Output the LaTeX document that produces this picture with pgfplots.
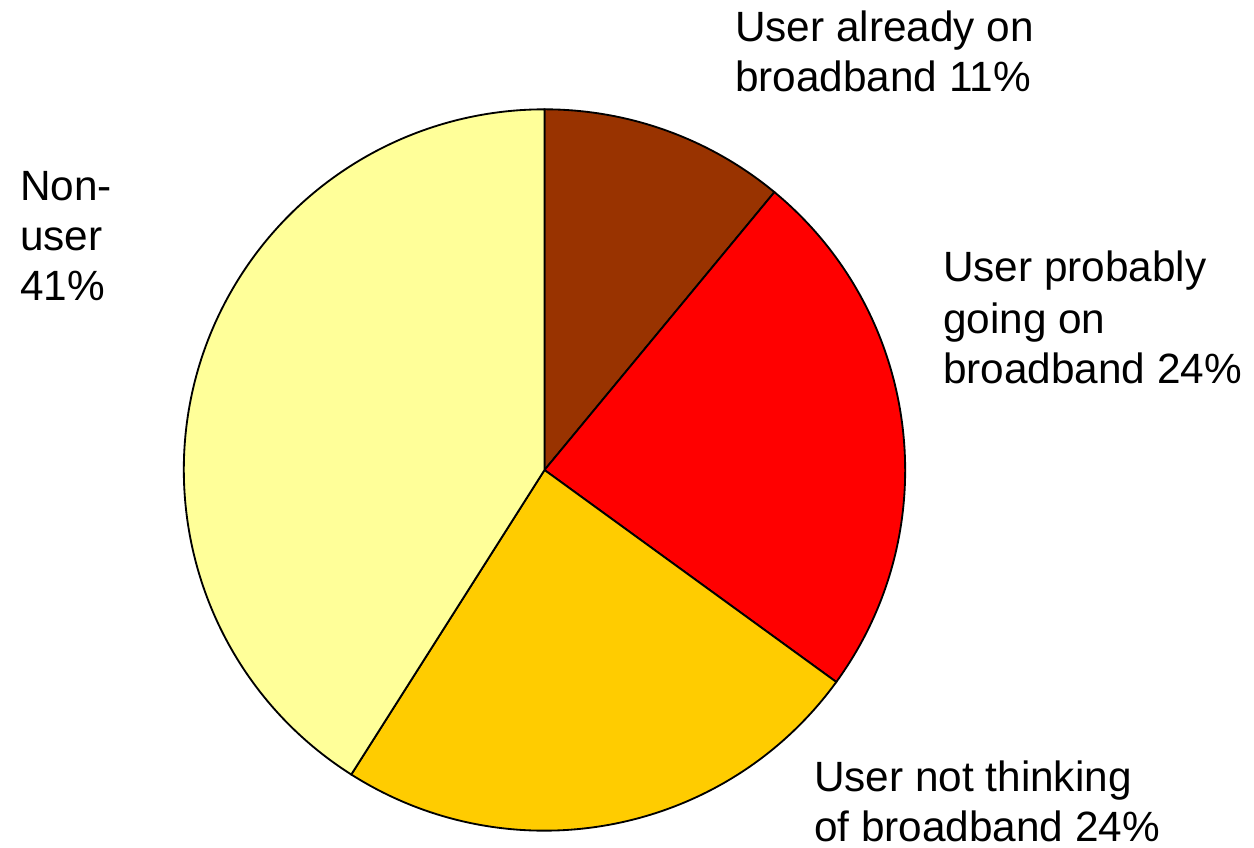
\documentclass[border=0pt]{standalone}
\usepackage{pgfplots}
\pgfplotsset{compat=1.18}
\usepackage{fontspec}
\setmainfont{Liberation Sans}
\definecolor{cA}{HTML}{993300}
\definecolor{cB}{HTML}{FF0000}
\definecolor{cC}{HTML}{FFCC00}
\definecolor{cD}{HTML}{FFFF99}
\tikzset{lab/.style={font=\fontsize{12.7pt}{15.2pt}\selectfont, inner sep=0pt, outer sep=0pt, anchor=base west}}
\begin{document}
\begin{tikzpicture}
% data (percent shares, clockwise from 12 o'clock)
\def\valA{11}\def\valB{24}\def\valC{24}\def\valD{41}
\pgfmathsetmacro\aA{90}
\pgfmathsetmacro\aB{\aA-3.6*\valA}
\pgfmathsetmacro\aC{\aB-3.6*\valB}
\pgfmathsetmacro\aD{\aC-3.6*\valC}
\pgfmathsetmacro\aE{\aD-3.6*\valD}
\def\R{108.2pt}
\begin{axis}[
  hide axis, scale only axis,
  width=376.2pt, height=254.1pt,
  xmin=0, xmax=1254, ymin=0, ymax=847,
  clip=false,
]
\filldraw[fill=cA, draw=black, line width=0.55pt] (axis cs:544.5,377) -- ++(\aA:\R) arc[start angle=\aA, end angle=\aB, radius=\R] -- cycle;
\filldraw[fill=cB, draw=black, line width=0.55pt] (axis cs:544.5,377) -- ++(\aB:\R) arc[start angle=\aB, end angle=\aC, radius=\R] -- cycle;
\filldraw[fill=cC, draw=black, line width=0.55pt] (axis cs:544.5,377) -- ++(\aC:\R) arc[start angle=\aC, end angle=\aD, radius=\R] -- cycle;
\filldraw[fill=cD, draw=black, line width=0.55pt] (axis cs:544.5,377) -- ++(\aD:\R) arc[start angle=\aD, end angle=\aE, radius=\R] -- cycle;
\node[lab] at (axis cs:735,805) {User already on};
\node[lab] at (axis cs:735,755) {broadband 11\%};
\node[lab] at (axis cs:943,565) {User probably};
\node[lab] at (axis cs:943,513) {going on};
\node[lab] at (axis cs:943,463) {broadband 24\%};
\node[lab] at (axis cs:814,56) {User not thinking};
\node[lab] at (axis cs:814,6) {of broadband 24\%};
\node[lab] at (axis cs:20,646) {Non-};
\node[lab] at (axis cs:20,596) {user};
\node[lab] at (axis cs:20,546) {41\%};
\end{axis}
\pgfresetboundingbox
\path (0,0) rectangle (376.2pt,254.1pt);
\end{tikzpicture}
\end{document}
